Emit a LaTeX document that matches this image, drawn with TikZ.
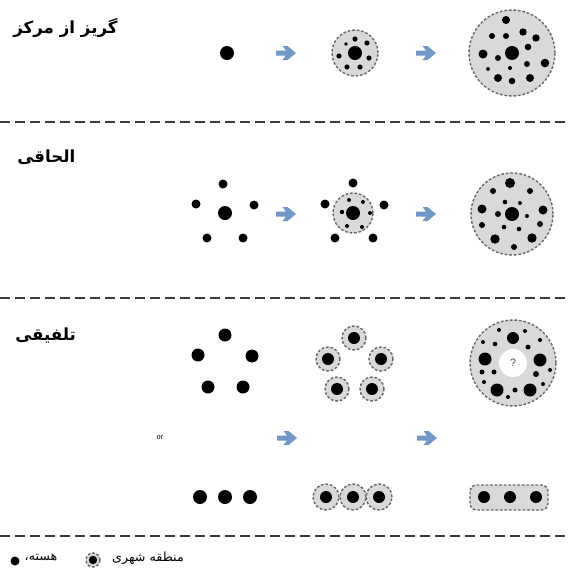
\documentclass[tikz,border=0pt]{standalone}
\usepackage{fontspec}
\newfontfamily\arabicfont[Script=Arabic]{DejaVu Sans}
\setsansfont{Liberation Sans}
\TeXXeTstate=1
\definecolor{regfill}{HTML}{D9D9D9}
\definecolor{regdraw}{HTML}{666666}
\definecolor{arrblue}{HTML}{6F97C9}
\definecolor{sepgray}{HTML}{3A3A3A}
\newcommand{\dt}[3]{\fill (#1,#2) circle[radius=#3*0.75pt];}
\newcommand{\barrow}[2]{\fill[arrblue,shift={(#1,#2)}] (-10,-2.5) -- (0,-2.5) -- (-3.5,-7) -- (1.5,-7) -- (10,0) -- (1.5,7) -- (-3.5,7) -- (0,2.5) -- (-10,2.5) -- cycle;}
\tikzset{
  region/.style={fill=regfill,draw=regdraw,line width=1.05pt,dash pattern=on 2pt off 1.4pt},
  sepline/.style={draw=sepgray,line width=0.9pt,dash pattern=on 7.5pt off 3.75pt},
  title/.style={anchor=west,inner sep=0pt,font=\arabicfont\bfseries\fontsize{12.5}{15}\selectfont},
  legtext/.style={inner sep=0pt,font=\arabicfont\fontsize{9.5}{11}\selectfont}
}
\begin{document}
\begin{tikzpicture}[x=0.75pt,y=-0.75pt]
\fill[white] (0,0) rectangle (568,568);
\useasboundingbox (0,0) rectangle (568,568);

% titles
\node[title] (t1) at (13,28) {\beginR گریز از مرکز\endR};
\node[title] (t2) at (17,157) {\beginR الحاقی\endR};
\node[title] (t3) at (15,336) {\beginR تلفیقی\endR};

% separators
\coordinate (s1a) at (0,122); \coordinate (s1b) at (568,122);
\coordinate (s2a) at (0,298); \coordinate (s2b) at (568,298);
\coordinate (s3a) at (0,536); \coordinate (s3b) at (568,536);
\draw[sepline] (s1a) -- (s1b);
\draw[sepline] (s2a) -- (s2b);
\draw[sepline] (s3a) -- (s3b);

% ===== Row 1 =====
\dt{227}{53}{7}
\barrow{286}{53}
\begin{scope}[shift={(355,53)}]
  \draw[region] (0,0) circle[radius=23*0.75pt];
  \dt{0}{0}{7}
  \dt{0}{-14}{2.6} \dt{12}{-10}{2.6} \dt{-9}{-9}{1.8}
  \dt{-16}{3}{2.6} \dt{14}{5}{2.6} \dt{-8}{14}{2.6} \dt{5}{14}{2.6}
\end{scope}
\barrow{426}{53}
\begin{scope}[shift={(512,53)}]
  \draw[region] (0,0) circle[radius=43*0.75pt];
  \dt{0}{0}{7}
  \dt{-6}{-33}{4} \dt{-20}{-17}{3} \dt{-6}{-17}{3} \dt{11}{-21}{3.7}
  \dt{24}{-15}{3.7} \dt{16}{-6}{3.3} \dt{-29}{1}{4.5} \dt{-14}{5}{3}
  \dt{15}{11}{3} \dt{33}{10}{4.3} \dt{-24}{16}{2} \dt{-2}{15}{2}
  \dt{-14}{25}{4} \dt{0}{28}{3.3} \dt{18}{25}{4}
\end{scope}

% ===== Row 2 =====
\dt{225}{213}{7}
\dt{223}{184}{4.5} \dt{196}{204}{4.5} \dt{254}{205}{4.5} \dt{207}{238}{4.5} \dt{243}{238}{4.5}
\barrow{286}{214}
\begin{scope}[shift={(353,213)}]
  \draw[region] (0,0) circle[radius=20*0.75pt];
  \dt{0}{0}{7}
  \dt{-4}{-13}{2} \dt{10}{-11}{2} \dt{-11}{-1}{2.2} \dt{17}{0}{2} \dt{-6}{13}{2} \dt{9}{14}{2}
\end{scope}
\dt{353}{183}{4.5} \dt{325}{204}{4.5} \dt{384}{205}{4.5} \dt{335}{238}{4.5} \dt{373}{238}{4.5}
\barrow{426}{214}
\begin{scope}[shift={(512,214)}]
  \draw[region] (0,0) circle[radius=41*0.75pt];
  \dt{0}{0}{7}
  \dt{-2}{-31}{5} \dt{-19}{-23}{3} \dt{18}{-23}{3} \dt{-7}{-12}{2.3}
  \dt{8}{-11}{2} \dt{-30}{-5}{4.5} \dt{31}{-4}{4.5} \dt{-14}{0}{3}
  \dt{15}{2}{2} \dt{-30}{11}{3} \dt{28}{10}{3} \dt{-8}{13}{2.3}
  \dt{7}{15}{2.3} \dt{-17}{25}{4.7} \dt{20}{24}{4.7} \dt{2}{33}{3}
\end{scope}

% ===== Row 3 =====
\dt{225}{335}{6.5} \dt{198}{355}{6.5} \dt{252}{356}{6.5} \dt{208}{387}{6.5} \dt{243}{387}{6.5}
\foreach \px/\py in {354/338,328/359,381/359,337/389,372/389}{
  \draw[region] (\px,\py) circle[radius=12*0.75pt];
  \dt{\px}{\py}{6}
}
\begin{scope}[shift={(513,363)}]
  \draw[region] (0,0) circle[radius=43*0.75pt];
  \fill[white] (0,0) circle[radius=14*0.75pt];
  \node[inner sep=0pt,font=\sffamily\fontsize{8}{9}\selectfont,text=black!75] (q) at (0,0) {?};
  \dt{0}{-25}{6} \dt{-28}{-4}{6.5} \dt{27}{-3}{6.5} \dt{-16}{27}{6.5} \dt{17}{27}{6.5}
  \dt{-14}{-33}{2} \dt{12}{-32}{2} \dt{-30}{-21}{2} \dt{-18}{-19}{2.3}
  \dt{15}{-16}{2.5} \dt{27}{-23}{2} \dt{-31}{9}{2.5} \dt{-19}{9}{2.5}
  \dt{23}{11}{3} \dt{37}{7}{2} \dt{-29}{19}{2} \dt{30}{21}{2}
  \dt{2}{27}{2.5} \dt{-5}{34}{2}
\end{scope}

\node[inner sep=0pt,font=\sffamily\fontsize{5.5}{6}\selectfont] (or) at (160,438) {or};
\barrow{287}{438}
\barrow{427}{438}

\dt{200}{497}{7} \dt{225}{497}{7} \dt{250}{497}{7}
\foreach \px in {326,353,379}{
  \draw[region] (\px,497) circle[radius=13*0.75pt];
  \dt{\px}{497}{6}
}
\draw[region,rounded corners=5pt] (470,485) rectangle (548,510);
\dt{484}{497}{6} \dt{510}{497}{6} \dt{536}{497}{6}

% ===== Legend =====
\dt{15}{561}{4.5}
\node[legtext] (l1) at (41,558) {\beginR هسته،\endR};
\draw[region] (93,560) circle[radius=7*0.75pt];
\dt{93}{560}{4.2}
\node[legtext] (l2) at (148,558) {\beginR منطقه شهری\endR};
\end{tikzpicture}
\end{document}
